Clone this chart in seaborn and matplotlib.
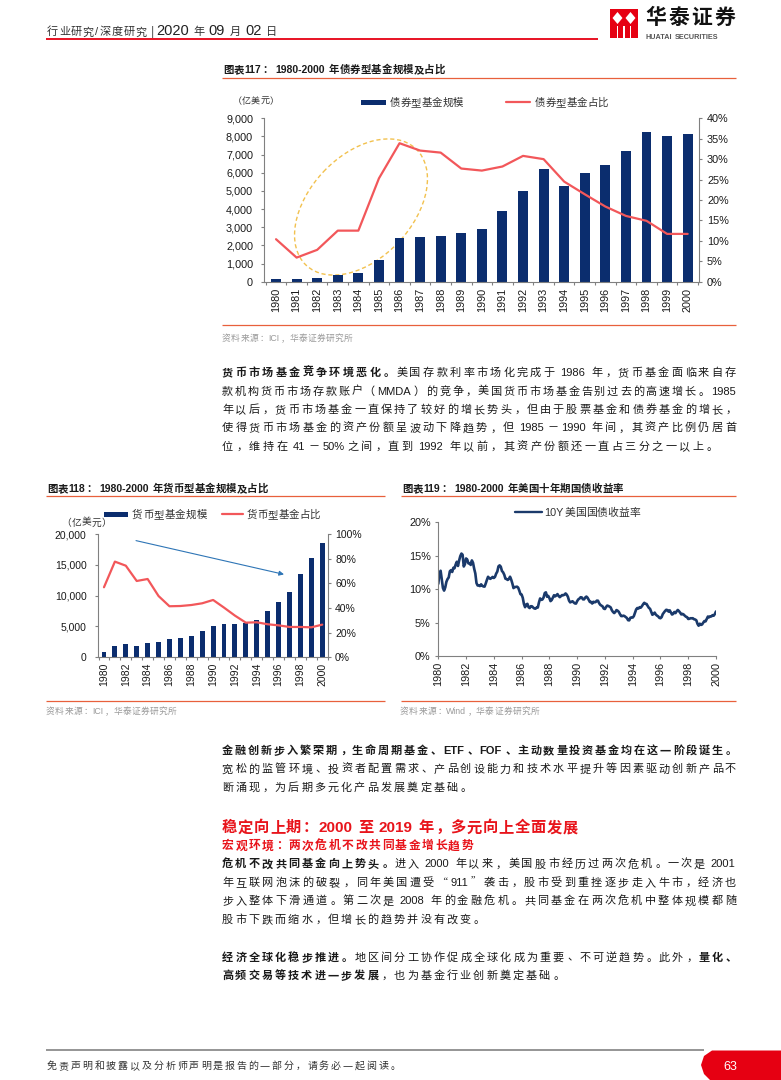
import numpy as np
import pandas as pd
import matplotlib
matplotlib.use("Agg")
import matplotlib.pyplot as plt
import seaborn as sns
from matplotlib.font_manager import FontProperties
from matplotlib.patches import Ellipse, Rectangle, Polygon
from matplotlib.ticker import FuncFormatter

# ---------------- data ----------------
years = list(range(1980, 2001))
bond_size = [130, 130, 220, 370, 460, 1210, 2430, 2460, 2540, 2700, 2900,
             3920, 5020, 6190, 5280, 5970, 6430, 7210, 8250, 8030, 8140]
bond_share = [10.4, 5.9, 7.8, 12.5, 12.5, 25.3, 33.9, 32.1, 31.6, 27.7, 27.2,
              28.2, 30.8, 30.0, 24.5, 21.4, 18.4, 16.1, 14.9, 11.7, 11.7]
mmf_size = [780, 1870, 2200, 1800, 2330, 2460, 2920, 3170, 3390, 4250, 5000,
            5440, 5460, 5550, 6110, 7520, 9030, 10560, 13520, 16180, 18470]
mmf_share = [56.8, 77.6, 74.3, 61.9, 63.5, 49.7, 41.4, 41.6, 42.4, 43.8, 46.5,
             40.3, 33.8, 28.1, 28.4, 26.8, 25.9, 24.6, 24.6, 24.3, 26.5]
# 10Y US Treasury yield, monthly, Jan 1980 .. Jan 2000 (%)
y10 = [
    10.80, 12.41, 12.75, 11.47, 10.18, 9.78, 10.25, 11.10, 11.51, 11.75, 12.68, 12.84,
    12.57, 13.19, 13.12, 13.68, 14.10, 13.47, 14.28, 14.94, 15.32, 15.15, 13.39, 13.72,
    14.59, 14.43, 13.86, 13.87, 13.62, 14.30, 13.95, 13.06, 12.34, 10.91, 10.55, 10.54,
    10.46, 10.72, 10.51, 10.40, 10.38, 10.85, 11.38, 11.85, 11.65, 11.54, 11.69, 11.83,
    11.67, 11.84, 12.32, 12.63, 13.41, 13.56, 13.36, 12.72, 12.52, 12.16, 11.57, 11.50,
    11.38, 11.51, 11.86, 11.43, 10.85, 10.16, 10.31, 10.33, 10.37, 10.24, 9.78, 9.26,
    9.19, 8.70, 7.78, 7.30, 7.71, 7.80, 7.30, 7.17, 7.45, 7.43, 7.25, 7.11,
    7.08, 7.25, 7.25, 8.02, 8.61, 8.40, 8.45, 8.76, 9.42, 9.52, 8.86, 8.99,
    8.67, 8.21, 8.37, 8.72, 9.09, 8.92, 9.06, 9.26, 8.98, 8.80, 8.96, 9.11,
    9.09, 9.17, 9.36, 9.18, 8.86, 8.28, 8.02, 8.11, 8.19, 8.01, 7.87, 7.84,
    8.21, 8.47, 8.59, 8.79, 8.76, 8.48, 8.47, 8.75, 8.89, 8.72, 8.39, 8.08,
    8.09, 7.85, 8.11, 8.04, 8.07, 8.28, 8.27, 7.90, 7.65, 7.53, 7.42, 7.09,
    7.03, 7.34, 7.54, 7.48, 7.39, 7.26, 6.84, 6.59, 6.42, 6.59, 6.87, 6.77,
    6.60, 6.26, 5.98, 5.97, 6.04, 5.96, 5.81, 5.68, 5.36, 5.33, 5.72, 5.77,
    5.75, 5.97, 6.48, 6.97, 7.18, 7.10, 7.30, 7.24, 7.46, 7.74, 7.96, 7.81,
    7.78, 7.47, 7.20, 7.06, 6.63, 6.17, 6.28, 6.49, 6.20, 6.04, 5.93, 5.71,
    5.65, 5.81, 6.27, 6.51, 6.74, 6.91, 6.87, 6.64, 6.83, 6.53, 6.20, 6.30,
    6.58, 6.42, 6.69, 6.89, 6.71, 6.49, 6.22, 6.30, 6.21, 6.03, 5.88, 5.81,
    5.54, 5.57, 5.65, 5.64, 5.65, 5.50, 5.46, 5.34, 4.81, 4.53, 4.83, 4.65,
    4.72, 5.00, 5.23, 5.18, 5.54, 5.90, 5.79, 5.94, 5.92, 6.11, 6.03, 6.28,
    6.66,
]
y10_t = [1980 + i / 12 for i in range(len(y10))]

# ---------------- style ----------------
sns.set_theme(style="ticks")
CJK = ["Noto Sans CJK SC", "DejaVu Sans"]
LAT = ["Liberation Sans", "Noto Sans CJK SC", "DejaVu Sans"]
plt.rcParams["font.family"] = LAT
NAVY = "#0B2D6E"
RED = "#F2575A"
LINE119 = "#1B3A6B"
RULE = "#E8603C"
GRAY = "#808080"
TXT = "#1A1A1A"
HRED = "#E8141B"

W, H = 781, 1080
fig = plt.figure(figsize=(7.81, 10.8), dpi=100)
fig.patch.set_facecolor("white")
bg = fig.add_axes([0, 0, 1, 1], zorder=-10)
bg.set_xlim(0, W)
bg.set_ylim(H, 0)
bg.axis("off")
renderer = fig.canvas.get_renderer()


def is_cjk(ch):
    return ord(ch) >= 0x2E80 or ch in "“”"


def tokens(s):
    out, buf = [], ""
    for ch in s:
        if ch == " ":
            if buf:
                out.append(buf)
                buf = ""
            out.append(" ")
        elif is_cjk(ch):
            if buf:
                out.append(buf)
                buf = ""
            out.append(ch)
        else:
            buf += ch
    if buf:
        out.append(buf)
    return out


def seg(t, size=8, w="normal", c=TXT):
    return dict(t=t, size=size, w=w, c=c)


def draw_line(x0, yc, segs, x1=None, track=0.0):
    items = []
    maxpx = 0
    pending = 0.0
    for sg in segs:
        spx = sg["size"] * 100 / 72
        maxpx = max(maxpx, spx)
        fpc = FontProperties(family=CJK, size=sg["size"], weight=sg["w"])
        fpl = FontProperties(family=LAT, size=sg["size"], weight=sg["w"])
        for tk in tokens(sg["t"]):
            if tk == " ":
                pending += 0.28 * spx
            elif is_cjk(tk[0]):
                items.append([tk, pending, spx, fpc, sg["c"], spx])
                pending = 0.0
            else:
                w, h, d = renderer.get_text_width_height_descent(tk, fpl, ismath=False)
                items.append([tk, pending, w + 0.08 * spx, fpl, sg["c"], spx])
                pending = 0.0
    total = sum(i[1] + i[2] for i in items)
    n = len(items)
    if x1 is not None and n > 1:
        g = (x1 - x0 - total) / (n - 1)
    else:
        g = track
    yb = yc + 0.37 * maxpx
    x = x0
    for tk, pre, w, fp, col, spx in items:
        x += pre
        if is_cjk(tk[0]):
            if tk in "，。、：；":
                bg.text(x + 0.08 * spx, yb, tk, ha="left", va="baseline", fontproperties=fp, color=col)
            elif tk in "（“":
                bg.text(x + w - 0.05 * spx, yb, tk, ha="right", va="baseline", fontproperties=fp, color=col)
            elif tk in "）”":
                bg.text(x + 0.05 * spx, yb, tk, ha="left", va="baseline", fontproperties=fp, color=col)
            else:
                bg.text(x + w / 2, yb, tk, ha="center", va="baseline", fontproperties=fp, color=col)
        else:
            bg.text(x + 0.04 * spx, yb, tk, ha="left", va="baseline", fontproperties=fp, color=col)
        x += w + g
    return x


def hline(x0, x1, y, color, lw):
    bg.plot([x0, x1], [y, y], color=color, lw=lw, solid_capstyle="butt")


# ---------------- header ----------------
draw_line(47, 30, [seg("行业研究/深度研究", 8, c="#333333"), seg(" ", 8), seg("|", 9, c="#555555"),
                   seg("2020", 10.5, c="#222222"),
                   seg(" 年 ", 8, c="#333333"), seg("09", 10.5, c="#222222"),
                   seg(" 月 ", 8, c="#333333"), seg("02", 10.5, c="#222222"),
                   seg(" 日", 8, c="#333333")], track=0.8)
hline(46, 598, 39, "#E60012", 1.3)
# logo
bg.add_patch(Rectangle((610, 9), 28, 29, color="#E60012", lw=0))
for cx in (617.5, 630.5):
    bg.add_patch(Polygon([(cx, 12), (cx + 5, 18), (cx, 24), (cx - 5, 18)], color="white", lw=0))
for xx in (617.5, 624, 630.5):
    bg.add_patch(Rectangle((xx - 0.8, 26), 1.6, 12, color="white", lw=0))
draw_line(645, 16, [seg("华泰证券", 15, w="bold", c="#111111")], x1=735)
draw_line(645, 36.5, [seg("HUATAI SECURITIES", 5.2, w="bold", c="#555555")], track=0.0)

# ---------------- chart 117 ----------------
draw_line(223, 69, [seg("图表117：", 7.5, w="bold"), seg(" 1980-2000 年债券型基金规模及占比", 7.5, w="bold")], x1=445)
hline(222, 736, 78, RULE, 0.9)
hline(222, 736, 324.5, RULE, 0.9)
draw_line(222, 338, [seg("资料来源：ICI，华泰证券研究所", 6.3, c="#9A9A9A")], track=0.4)

df1 = pd.DataFrame({"年份": years, "规模": bond_size, "占比": bond_share})
ax1 = fig.add_axes([264.3 / W, 1 - 281.7 / H, (699 - 264.3) / W, (281.7 - 118.3) / H])
sns.barplot(data=df1, x="年份", y="规模", native_scale=True, color=NAVY, saturation=1,
            width=0.48, errorbar=None, ax=ax1, linewidth=0)
ax1b = ax1.twinx()
sns.lineplot(data=df1, x="年份", y="占比", ax=ax1b, color=RED, lw=1.6)
ax1.set_xlim(1979.43, 2000.55)
ax1.set_ylim(0, 9000)
ax1b.set_ylim(0, 40)
ax1.set_yticks(np.arange(0, 9001, 1000))
ax1.yaxis.set_major_formatter(FuncFormatter(lambda v, p: f"{v:,.0f}"))
ax1b.set_yticks(np.arange(0, 41, 5))
ax1b.yaxis.set_major_formatter(FuncFormatter(lambda v, p: f"{v:.0f}%"))
ax1.set_xticks(years)
ax1.set_xticklabels([str(y) for y in years], rotation=90)
ax1.set_xticks(np.arange(1979.5, 2000.6, 1), minor=True)

# ---------------- chart 118 ----------------
draw_line(47, 488, [seg("图表118：", 7.5, w="bold"), seg(" 1980-2000 年货币型基金规模及占比", 7.5, w="bold")], x1=268)
hline(46, 385, 496, RULE, 0.9)
hline(46, 385, 701, RULE, 0.9)
draw_line(46, 711, [seg("资料来源：ICI，华泰证券研究所", 6.3, c="#9A9A9A")], track=0.4)

df2 = pd.DataFrame({"年份": years, "规模": mmf_size, "占比": mmf_share})
ax2 = fig.add_axes([98.3 / W, 1 - 657.3 / H, (327.7 - 98.3) / W, (657.3 - 534) / H])
sns.barplot(data=df2, x="年份", y="规模", native_scale=True, color=NAVY, saturation=1,
            width=0.45, errorbar=None, ax=ax2, linewidth=0)
ax2b = ax2.twinx()
sns.lineplot(data=df2, x="年份", y="占比", ax=ax2b, color=RED, lw=1.6)
ax2.set_xlim(1979.48, 2000.49)
ax2.set_ylim(0, 20000)
ax2b.set_ylim(0, 100)
ax2.set_yticks(np.arange(0, 20001, 5000))
ax2.yaxis.set_major_formatter(FuncFormatter(lambda v, p: f"{v:,.0f}"))
ax2b.set_yticks(np.arange(0, 101, 20))
ax2b.yaxis.set_major_formatter(FuncFormatter(lambda v, p: f"{v:.0f}%"))
ax2.set_xticks(years[::2])
ax2.set_xticklabels([str(y) for y in years[::2]], rotation=90)
ax2.set_xticks(np.arange(1979.5, 2000.6, 1), minor=True)

# ---------------- chart 119 ----------------
draw_line(402, 488, [seg("图表119：", 7.5, w="bold"), seg(" 1980-2000 年美国十年期国债收益率", 7.5, w="bold")], x1=623)
hline(401, 736, 496, RULE, 0.9)
hline(401, 736, 701, RULE, 0.9)
draw_line(400, 711, [seg("资料来源：Wind，华泰证券研究所", 6.3, c="#9A9A9A")], track=0.4)

df3 = pd.DataFrame({"t": y10_t, "收益率": y10})
ax3 = fig.add_axes([438.3 / W, 1 - 656 / H, (716 - 438.3) / W, (656 - 522.3) / H])
sns.lineplot(data=df3, x="t", y="收益率", ax=ax3, color=LINE119, lw=1.9)
ax3.set_xlim(1980, 2000)
ax3.set_ylim(0, 20)
ax3.set_yticks(np.arange(0, 21, 5))
ax3.yaxis.set_major_formatter(FuncFormatter(lambda v, p: f"{v:.0f}%"))
ax3.set_xticks(years[::2])
ax3.set_xticklabels([str(y) for y in years[::2]], rotation=90)

# ---------------- axis styling ----------------
for ax in (ax1, ax1b, ax2, ax2b, ax3):
    ax.set_xlabel("")
    ax.set_ylabel("")
    ax.patch.set_alpha(0)
    for s in ax.spines.values():
        s.set_color(GRAY)
        s.set_linewidth(0.8)
    ax.spines["top"].set_visible(False)

for ax, b, lp, rp, bp, fs in ((ax1, ax1b, 5.6, 3.3, 4.5, 7.8), (ax2, ax2b, 5.9, 2.8, 4.1, 7.5)):
    ax.spines["right"].set_visible(False)
    b.spines["left"].set_visible(False)
    b.spines["bottom"].set_visible(False)
    ax.tick_params(axis="y", length=2.5, width=0.8, color=GRAY, pad=lp, labelsize=fs, labelcolor=TXT)
    b.tick_params(axis="y", length=2.5, width=0.8, color=GRAY, pad=rp, labelsize=fs, labelcolor=TXT)
    ax.tick_params(axis="x", which="major", length=0, pad=bp, labelsize=fs, labelcolor=TXT)
    ax.tick_params(axis="x", which="minor", length=2.5, width=0.8, color=GRAY)
    b.tick_params(axis="x", which="both", length=0, labelbottom=False)

ax3.spines["right"].set_visible(False)
ax3.tick_params(axis="y", length=2.5, width=0.8, color=GRAY, pad=3.0, labelsize=7.8, labelcolor=TXT)
ax3.tick_params(axis="x", length=2.5, width=0.8, color=GRAY, pad=1.6, labelsize=7.8, labelcolor=TXT)

# ---------------- legends & annotations ----------------
draw_line(233, 101, [seg("（亿美元）", 6.5, c="#333333")])
bg.add_patch(Rectangle((361, 99.5), 25, 5.5, color=NAVY, lw=0))
draw_line(390, 102, [seg("债券型基金规模", 7.5, c="#333333")])
bg.plot([506, 530], [102, 102], color=RED, lw=1.6)
draw_line(535, 102, [seg("债券型基金占比", 7.5, c="#333333")])
bg.add_patch(Ellipse((361, 207), 160, 103, angle=-46.7, fill=False, ec="#F2C14E", lw=1.0, ls=(0, (3, 2))))

draw_line(62, 522, [seg("（亿美元）", 7.0, c="#333333")])
bg.add_patch(Rectangle((104, 511.5), 24, 5.5, color=NAVY, lw=0))
draw_line(132, 514, [seg("货币型基金规模", 7.5, c="#333333")], track=0.3)
bg.plot([222, 243], [514, 514], color=RED, lw=1.6)
draw_line(247, 514, [seg("货币型基金占比", 7.5, c="#333333")])
bg.annotate("", xy=(286.7, 575), xytext=(133.3, 540),
            arrowprops=dict(arrowstyle="-|>", color="#2E75B6", lw=0.8, mutation_scale=7))

bg.plot([515, 542], [512, 512], color=LINE119, lw=1.7)
draw_line(544, 512, [seg("10Y美国国债收益率", 7.8, c="#333333")])

# ---------------- body text ----------------
X0, X1 = 222, 736
TR = 2.1
draw_line(X0, 372, [seg("货币市场基金竞争环境恶化。", 8, w="bold"), seg("美国存款利率市场化完成于 1986 年，货币基金面临来自存")], x1=X1)
draw_line(X0, 390.4, [seg("款机构货币市场存款账户（MMDA）的竞争，美国货币市场基金告别过去的高速增长。1985")], x1=X1)
draw_line(X0, 408.8, [seg("年以后，货币市场基金一直保持了较好的增长势头，但由于股票基金和债券基金的增长，")], x1=X1)
draw_line(X0, 427.2, [seg("使得货币市场基金的资产份额呈波动下降趋势，但 1985－1990 年间，其资产比例仍居首")], x1=X1)
draw_line(X0, 445.6, [seg("位，维持在 41－50%之间，直到 1992 年以前，其资产份额还一直占三分之一以上。")], track=TR + 0.3)

draw_line(X0, 750, [seg("金融创新步入繁荣期，生命周期基金、ETF、FOF、主动数量投资基金均在这一阶段诞生。", 8, w="bold")], x1=X1)
draw_line(X0, 768.3, [seg("宽松的监管环境、投资者配置需求、产品创设能力和技术水平提升等因素驱动创新产品不")], x1=X1)
draw_line(X0, 786.7, [seg("断涌现，为后期多元化产品发展奠定基础。")], track=TR)

draw_line(X0, 826.7, [seg("稳定向上期：2000 至 2019 年，多元向上全面发展", 11, w="bold", c=HRED)], track=0.7)
draw_line(X0, 845, [seg("宏观环境：两次危机不改共同基金增长趋势", 8.5, w="bold", c=HRED)], track=1.5)

draw_line(X0, 863.3, [seg("危机不改共同基金向上势头。", 8, w="bold"), seg("进入 2000 年以来，美国股市经历过两次危机。一次是 2001")], x1=X1)
draw_line(X0, 881.7, [seg("年互联网泡沫的破裂，同年美国遭受“911”袭击，股市受到重挫逐步走入牛市，经济也")], x1=X1)
draw_line(X0, 900.2, [seg("步入整体下滑通道。第二次是 2008 年的金融危机。共同基金在两次危机中整体规模都随")], x1=X1)
draw_line(X0, 918.6, [seg("股市下跌而缩水，但增长的趋势并没有改变。")], track=TR)

draw_line(X0, 956.7, [seg("经济全球化稳步推进。", 8, w="bold"), seg("地区间分工协作促成全球化成为重要、不可逆趋势。此外，"), seg("量化、", 8, w="bold")], x1=X1)
draw_line(X0, 975, [seg("高频交易等技术进一步发展", 8, w="bold"), seg("，也为基金行业创新奠定基础。")], track=TR)

# ---------------- footer ----------------
hline(46, 704, 1049.5, "#8C8C8C", 1.3)
bg.add_patch(Polygon([(781, 1050.5), (712, 1050.5), (704, 1056), (701, 1065), (704, 1074), (710, 1080), (781, 1080)],
                     color="#E60012", lw=0))
draw_line(723, 1065, [seg("63", 9, c="white")])
draw_line(47, 1065, [seg("免责声明和披露以及分析师声明是报告的一部分，请务必一起阅读。", 7.2, c="#333333")], x1=400)

fig.savefig("out.png", dpi=100, facecolor="white")
